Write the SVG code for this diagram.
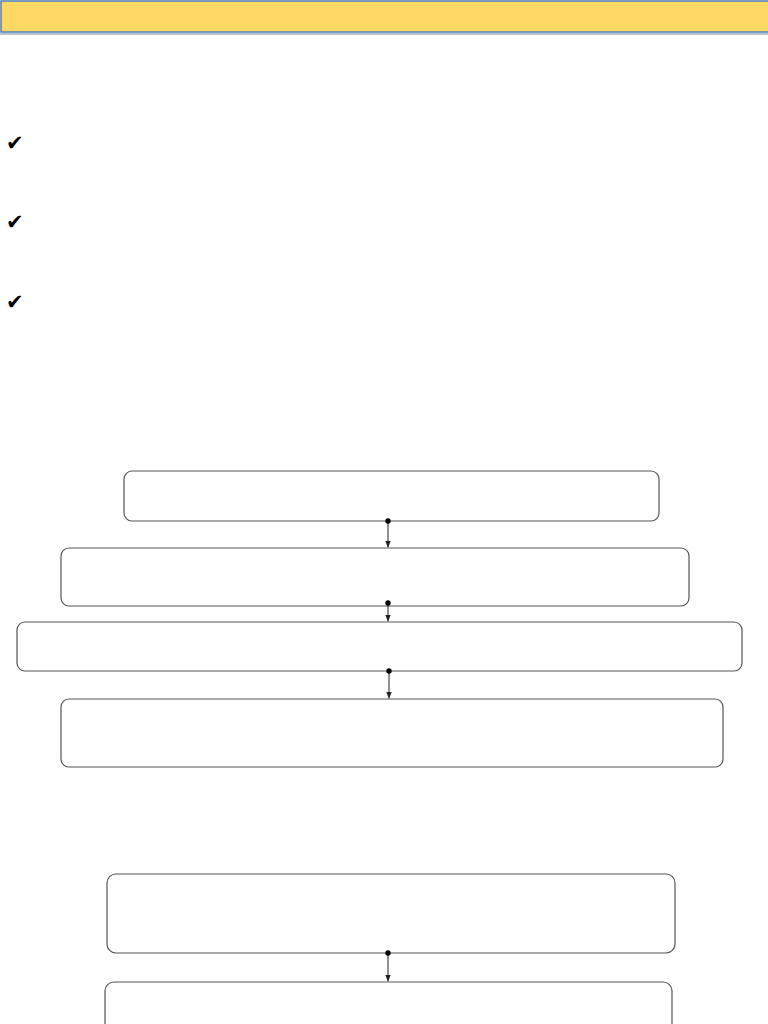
<svg xmlns="http://www.w3.org/2000/svg" width="768" height="1024" viewBox="0 0 768 1024">
<style>
.box{fill:#fff;stroke:#555;stroke-width:1.2}
.conn{stroke:#222;stroke-width:1;fill:none}
.chk{font-family:"DejaVu Sans",sans-serif;font-size:21px;fill:#000}
</style>
<defs>
<marker id="arr" viewBox="0 0 10 10" refX="9" refY="5" markerWidth="7" markerHeight="7" orient="auto" markerUnits="userSpaceOnUse">
<path d="M0,1 L10,5 L0,9 z" fill="#222"/>
</marker>
<marker id="dot" viewBox="0 0 10 10" refX="5" refY="5" markerWidth="6" markerHeight="6" markerUnits="userSpaceOnUse" overflow="visible">
<circle cx="5" cy="5" r="4.5" fill="#000"/>
</marker>
</defs>
<rect width="768" height="1024" fill="#fff"/>
<g id="header">
<rect x="0" y="33" width="768" height="2" fill="#b8c4cc"/>
<rect x="1" y="1" width="768" height="31" fill="#ffd966" stroke="#4a7ebb" stroke-width="1.5"/>
</g>
<g id="checks">
<text class="chk" x="6" y="150">✔</text>
<text class="chk" x="6" y="229">✔</text>
<text class="chk" x="6" y="309">✔</text>
</g>
<g id="node1"><rect class="box" x="124" y="471" width="535" height="50" rx="8"/></g>
<g id="node2"><rect class="box" x="61" y="548" width="628" height="58" rx="8"/></g>
<g id="node3"><rect class="box" x="17" y="622" width="725" height="49" rx="8"/></g>
<g id="node4"><rect class="box" x="61" y="699" width="662" height="68" rx="8"/></g>
<g id="node5"><rect class="box" x="107" y="874" width="568" height="79" rx="9"/></g>
<g id="node6"><rect class="box" x="105" y="982" width="567" height="60" rx="9"/></g>
<g id="connectors">
<line class="conn" x1="388" y1="521" x2="388" y2="547" marker-start="url(#dot)" marker-end="url(#arr)"/>
<line class="conn" x1="388" y1="603" x2="388" y2="621" marker-start="url(#dot)" marker-end="url(#arr)"/>
<line class="conn" x1="389" y1="671" x2="389" y2="698" marker-start="url(#dot)" marker-end="url(#arr)"/>
<line class="conn" x1="388" y1="953" x2="388" y2="981" marker-start="url(#dot)" marker-end="url(#arr)"/>
</g>
</svg>
